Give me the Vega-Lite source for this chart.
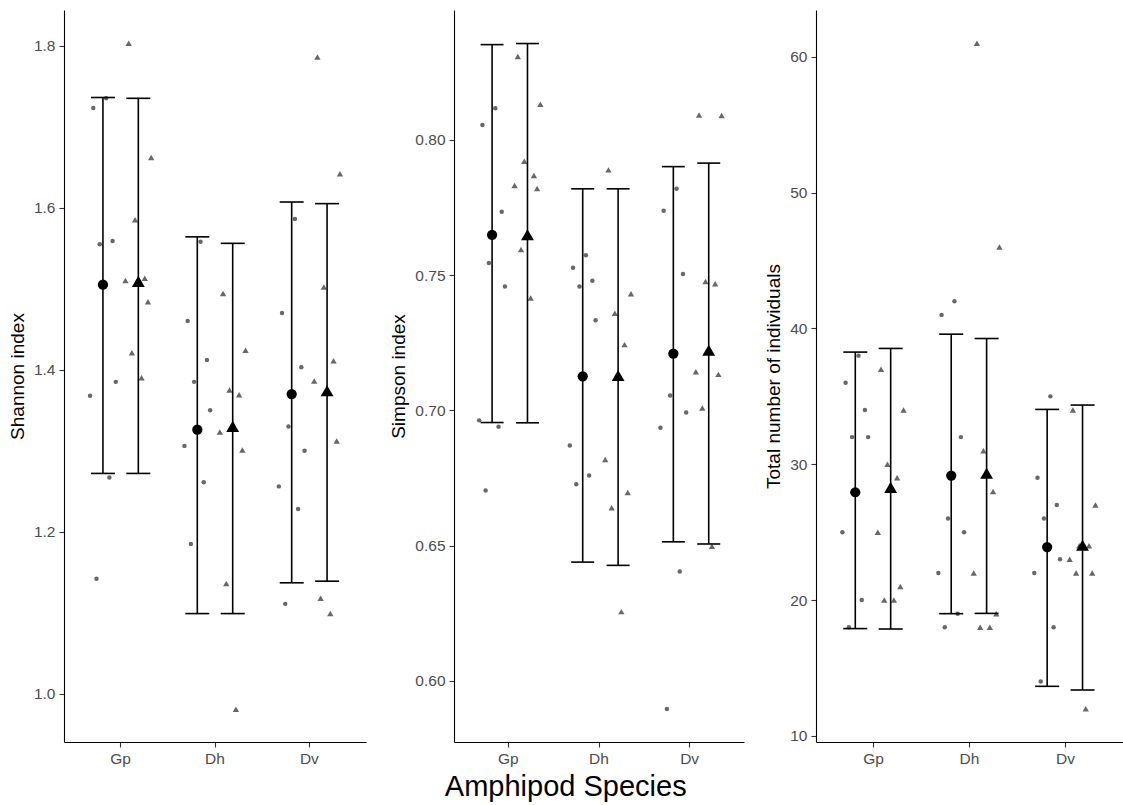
{
  "$schema": "https://vega.github.io/schema/vega-lite/v6.json",
  "padding": {"left": 8, "top": 10, "right": 0, "bottom": 4},
  "spacing": 20,
  "title": {"text": "Amphipod Species", "orient": "bottom", "anchor": "middle", "fontSize": 29, "font": "Liberation Sans", "fontWeight": "normal", "color": "#000000", "offset": 6},
  "config": {
    "font": "Liberation Sans",
    "view": {"stroke": null},
    "axis": {"grid": false, "domainColor": "#000000", "domainWidth": 1.1, "tickColor": "#333333", "tickWidth": 1.1, "tickSize": 5, "labelColor": "#4d4d4d", "labelFontSize": 15.5, "labelFont": "Liberation Sans", "titleFont": "Liberation Sans", "titleFontSize": 19, "titleFontWeight": "normal", "titleColor": "#000000", "labelPadding": 4},
    "axisY": {"titlePadding": 6},
    "axisX": {"labelAngle": 0}
  },
  "datasets": {
    "pts": [
      {"idx":"Shannon","sp":"Gp","grp":"A","id":"A1","v":1.735},
      {"idx":"Shannon","sp":"Gp","grp":"A","id":"A2","v":1.723},
      {"idx":"Shannon","sp":"Gp","grp":"A","id":"A3","v":1.559},
      {"idx":"Shannon","sp":"Gp","grp":"A","id":"A4","v":1.555},
      {"idx":"Shannon","sp":"Gp","grp":"A","id":"A5","v":1.385},
      {"idx":"Shannon","sp":"Gp","grp":"A","id":"A6","v":1.368},
      {"idx":"Shannon","sp":"Gp","grp":"A","id":"A7","v":1.267},
      {"idx":"Shannon","sp":"Gp","grp":"A","id":"A8","v":1.142},
      {"idx":"Shannon","sp":"Gp","grp":"B","id":"B1","v":1.803},
      {"idx":"Shannon","sp":"Gp","grp":"B","id":"B2","v":1.662},
      {"idx":"Shannon","sp":"Gp","grp":"B","id":"B3","v":1.585},
      {"idx":"Shannon","sp":"Gp","grp":"B","id":"B4","v":1.513},
      {"idx":"Shannon","sp":"Gp","grp":"B","id":"B5","v":1.510},
      {"idx":"Shannon","sp":"Gp","grp":"B","id":"B6","v":1.484},
      {"idx":"Shannon","sp":"Gp","grp":"B","id":"B7","v":1.421},
      {"idx":"Shannon","sp":"Gp","grp":"B","id":"B8","v":1.390},
      {"idx":"Shannon","sp":"Dh","grp":"A","id":"A1","v":1.558},
      {"idx":"Shannon","sp":"Dh","grp":"A","id":"A2","v":1.460},
      {"idx":"Shannon","sp":"Dh","grp":"A","id":"A3","v":1.412},
      {"idx":"Shannon","sp":"Dh","grp":"A","id":"A4","v":1.385},
      {"idx":"Shannon","sp":"Dh","grp":"A","id":"A5","v":1.350},
      {"idx":"Shannon","sp":"Dh","grp":"A","id":"A6","v":1.306},
      {"idx":"Shannon","sp":"Dh","grp":"A","id":"A7","v":1.261},
      {"idx":"Shannon","sp":"Dh","grp":"A","id":"A8","v":1.185},
      {"idx":"Shannon","sp":"Dh","grp":"B","id":"B1","v":1.494},
      {"idx":"Shannon","sp":"Dh","grp":"B","id":"B2","v":1.424},
      {"idx":"Shannon","sp":"Dh","grp":"B","id":"B3","v":1.375},
      {"idx":"Shannon","sp":"Dh","grp":"B","id":"B4","v":1.369},
      {"idx":"Shannon","sp":"Dh","grp":"B","id":"B5","v":1.323},
      {"idx":"Shannon","sp":"Dh","grp":"B","id":"B6","v":1.301},
      {"idx":"Shannon","sp":"Dh","grp":"B","id":"B7","v":1.136},
      {"idx":"Shannon","sp":"Dh","grp":"B","id":"B8","v":0.981},
      {"idx":"Shannon","sp":"Dv","grp":"A","id":"A1","v":1.586},
      {"idx":"Shannon","sp":"Dv","grp":"A","id":"A2","v":1.470},
      {"idx":"Shannon","sp":"Dv","grp":"A","id":"A3","v":1.403},
      {"idx":"Shannon","sp":"Dv","grp":"A","id":"A4","v":1.330},
      {"idx":"Shannon","sp":"Dv","grp":"A","id":"A5","v":1.300},
      {"idx":"Shannon","sp":"Dv","grp":"A","id":"A6","v":1.256},
      {"idx":"Shannon","sp":"Dv","grp":"A","id":"A7","v":1.228},
      {"idx":"Shannon","sp":"Dv","grp":"A","id":"A8","v":1.111},
      {"idx":"Shannon","sp":"Dv","grp":"B","id":"B1","v":1.786},
      {"idx":"Shannon","sp":"Dv","grp":"B","id":"B2","v":1.642},
      {"idx":"Shannon","sp":"Dv","grp":"B","id":"B3","v":1.502},
      {"idx":"Shannon","sp":"Dv","grp":"B","id":"B4","v":1.411},
      {"idx":"Shannon","sp":"Dv","grp":"B","id":"B5","v":1.386},
      {"idx":"Shannon","sp":"Dv","grp":"B","id":"B6","v":1.312},
      {"idx":"Shannon","sp":"Dv","grp":"B","id":"B7","v":1.118},
      {"idx":"Shannon","sp":"Dv","grp":"B","id":"B8","v":1.099},
      {"idx":"Simpson","sp":"Gp","grp":"A","id":"A1","v":0.8117},
      {"idx":"Simpson","sp":"Gp","grp":"A","id":"A2","v":0.8055},
      {"idx":"Simpson","sp":"Gp","grp":"A","id":"A3","v":0.7734},
      {"idx":"Simpson","sp":"Gp","grp":"A","id":"A4","v":0.7545},
      {"idx":"Simpson","sp":"Gp","grp":"A","id":"A5","v":0.7458},
      {"idx":"Simpson","sp":"Gp","grp":"A","id":"A6","v":0.6963},
      {"idx":"Simpson","sp":"Gp","grp":"A","id":"A7","v":0.6939},
      {"idx":"Simpson","sp":"Gp","grp":"A","id":"A8","v":0.6704},
      {"idx":"Simpson","sp":"Gp","grp":"B","id":"B1","v":0.8308},
      {"idx":"Simpson","sp":"Gp","grp":"B","id":"B2","v":0.8132},
      {"idx":"Simpson","sp":"Gp","grp":"B","id":"B3","v":0.7921},
      {"idx":"Simpson","sp":"Gp","grp":"B","id":"B4","v":0.7868},
      {"idx":"Simpson","sp":"Gp","grp":"B","id":"B5","v":0.7831},
      {"idx":"Simpson","sp":"Gp","grp":"B","id":"B6","v":0.7820},
      {"idx":"Simpson","sp":"Gp","grp":"B","id":"B7","v":0.7595},
      {"idx":"Simpson","sp":"Gp","grp":"B","id":"B8","v":0.7415},
      {"idx":"Simpson","sp":"Dh","grp":"A","id":"A1","v":0.7573},
      {"idx":"Simpson","sp":"Dh","grp":"A","id":"A2","v":0.7527},
      {"idx":"Simpson","sp":"Dh","grp":"A","id":"A3","v":0.7479},
      {"idx":"Simpson","sp":"Dh","grp":"A","id":"A4","v":0.7458},
      {"idx":"Simpson","sp":"Dh","grp":"A","id":"A5","v":0.7333},
      {"idx":"Simpson","sp":"Dh","grp":"A","id":"A6","v":0.6870},
      {"idx":"Simpson","sp":"Dh","grp":"A","id":"A7","v":0.6759},
      {"idx":"Simpson","sp":"Dh","grp":"A","id":"A8","v":0.6727},
      {"idx":"Simpson","sp":"Dh","grp":"B","id":"B1","v":0.7889},
      {"idx":"Simpson","sp":"Dh","grp":"B","id":"B2","v":0.7431},
      {"idx":"Simpson","sp":"Dh","grp":"B","id":"B3","v":0.7359},
      {"idx":"Simpson","sp":"Dh","grp":"B","id":"B4","v":0.7243},
      {"idx":"Simpson","sp":"Dh","grp":"B","id":"B5","v":0.6818},
      {"idx":"Simpson","sp":"Dh","grp":"B","id":"B6","v":0.6696},
      {"idx":"Simpson","sp":"Dh","grp":"B","id":"B7","v":0.6640},
      {"idx":"Simpson","sp":"Dh","grp":"B","id":"B8","v":0.6256},
      {"idx":"Simpson","sp":"Dv","grp":"A","id":"A1","v":0.7819},
      {"idx":"Simpson","sp":"Dv","grp":"A","id":"A2","v":0.7738},
      {"idx":"Simpson","sp":"Dv","grp":"A","id":"A3","v":0.7504},
      {"idx":"Simpson","sp":"Dv","grp":"A","id":"A4","v":0.7055},
      {"idx":"Simpson","sp":"Dv","grp":"A","id":"A5","v":0.6992},
      {"idx":"Simpson","sp":"Dv","grp":"A","id":"A6","v":0.6936},
      {"idx":"Simpson","sp":"Dv","grp":"A","id":"A7","v":0.6404},
      {"idx":"Simpson","sp":"Dv","grp":"A","id":"A8","v":0.5896},
      {"idx":"Simpson","sp":"Dv","grp":"B","id":"B1","v":0.8092},
      {"idx":"Simpson","sp":"Dv","grp":"B","id":"B2","v":0.8090},
      {"idx":"Simpson","sp":"Dv","grp":"B","id":"B3","v":0.7476},
      {"idx":"Simpson","sp":"Dv","grp":"B","id":"B4","v":0.7468},
      {"idx":"Simpson","sp":"Dv","grp":"B","id":"B5","v":0.7143},
      {"idx":"Simpson","sp":"Dv","grp":"B","id":"B6","v":0.7133},
      {"idx":"Simpson","sp":"Dv","grp":"B","id":"B7","v":0.7009},
      {"idx":"Simpson","sp":"Dv","grp":"B","id":"B8","v":0.6498},
      {"idx":"Total","sp":"Gp","grp":"A","id":"A1","v":38},
      {"idx":"Total","sp":"Gp","grp":"A","id":"A2","v":36},
      {"idx":"Total","sp":"Gp","grp":"A","id":"A3","v":34},
      {"idx":"Total","sp":"Gp","grp":"A","id":"A4","v":32},
      {"idx":"Total","sp":"Gp","grp":"A","id":"A5","v":32},
      {"idx":"Total","sp":"Gp","grp":"A","id":"A6","v":25},
      {"idx":"Total","sp":"Gp","grp":"A","id":"A7","v":20},
      {"idx":"Total","sp":"Gp","grp":"A","id":"A8","v":18},
      {"idx":"Total","sp":"Gp","grp":"B","id":"B1","v":37},
      {"idx":"Total","sp":"Gp","grp":"B","id":"B2","v":34},
      {"idx":"Total","sp":"Gp","grp":"B","id":"B3","v":30},
      {"idx":"Total","sp":"Gp","grp":"B","id":"B4","v":29},
      {"idx":"Total","sp":"Gp","grp":"B","id":"B5","v":25},
      {"idx":"Total","sp":"Gp","grp":"B","id":"B6","v":21},
      {"idx":"Total","sp":"Gp","grp":"B","id":"B7","v":20},
      {"idx":"Total","sp":"Gp","grp":"B","id":"B8","v":20},
      {"idx":"Total","sp":"Dh","grp":"A","id":"A1","v":42},
      {"idx":"Total","sp":"Dh","grp":"A","id":"A2","v":41},
      {"idx":"Total","sp":"Dh","grp":"A","id":"A3","v":32},
      {"idx":"Total","sp":"Dh","grp":"A","id":"A4","v":26},
      {"idx":"Total","sp":"Dh","grp":"A","id":"A5","v":25},
      {"idx":"Total","sp":"Dh","grp":"A","id":"A6","v":22},
      {"idx":"Total","sp":"Dh","grp":"A","id":"A7","v":19},
      {"idx":"Total","sp":"Dh","grp":"A","id":"A8","v":18},
      {"idx":"Total","sp":"Dh","grp":"B","id":"B1","v":61},
      {"idx":"Total","sp":"Dh","grp":"B","id":"B2","v":46},
      {"idx":"Total","sp":"Dh","grp":"B","id":"B3","v":31},
      {"idx":"Total","sp":"Dh","grp":"B","id":"B4","v":28},
      {"idx":"Total","sp":"Dh","grp":"B","id":"B5","v":22},
      {"idx":"Total","sp":"Dh","grp":"B","id":"B6","v":19},
      {"idx":"Total","sp":"Dh","grp":"B","id":"B7","v":18},
      {"idx":"Total","sp":"Dh","grp":"B","id":"B8","v":18},
      {"idx":"Total","sp":"Dv","grp":"A","id":"A1","v":35},
      {"idx":"Total","sp":"Dv","grp":"A","id":"A2","v":29},
      {"idx":"Total","sp":"Dv","grp":"A","id":"A3","v":27},
      {"idx":"Total","sp":"Dv","grp":"A","id":"A4","v":26},
      {"idx":"Total","sp":"Dv","grp":"A","id":"A5","v":23},
      {"idx":"Total","sp":"Dv","grp":"A","id":"A6","v":22},
      {"idx":"Total","sp":"Dv","grp":"A","id":"A7","v":18},
      {"idx":"Total","sp":"Dv","grp":"A","id":"A8","v":14},
      {"idx":"Total","sp":"Dv","grp":"B","id":"B1","v":34},
      {"idx":"Total","sp":"Dv","grp":"B","id":"B2","v":27},
      {"idx":"Total","sp":"Dv","grp":"B","id":"B3","v":24},
      {"idx":"Total","sp":"Dv","grp":"B","id":"B4","v":24},
      {"idx":"Total","sp":"Dv","grp":"B","id":"B5","v":23},
      {"idx":"Total","sp":"Dv","grp":"B","id":"B6","v":22},
      {"idx":"Total","sp":"Dv","grp":"B","id":"B7","v":22},
      {"idx":"Total","sp":"Dv","grp":"B","id":"B8","v":12}
    ],
    "means": [
      {"idx":"Shannon","sp":"Gp","grp":"A","id":"AM","mean":1.505,"lo":1.272,"hi":1.736},
      {"idx":"Shannon","sp":"Gp","grp":"B","id":"BM","mean":1.509,"lo":1.272,"hi":1.735},
      {"idx":"Shannon","sp":"Dh","grp":"A","id":"AM","mean":1.326,"lo":1.099,"hi":1.564},
      {"idx":"Shannon","sp":"Dh","grp":"B","id":"BM","mean":1.330,"lo":1.099,"hi":1.556},
      {"idx":"Shannon","sp":"Dv","grp":"A","id":"AM","mean":1.370,"lo":1.137,"hi":1.607},
      {"idx":"Shannon","sp":"Dv","grp":"B","id":"BM","mean":1.374,"lo":1.139,"hi":1.605},
      {"idx":"Simpson","sp":"Gp","grp":"A","id":"AM","mean":0.7649,"lo":0.6955,"hi":0.8352},
      {"idx":"Simpson","sp":"Gp","grp":"B","id":"BM","mean":0.7649,"lo":0.6954,"hi":0.8356},
      {"idx":"Simpson","sp":"Dh","grp":"A","id":"AM","mean":0.7126,"lo":0.6439,"hi":0.7819},
      {"idx":"Simpson","sp":"Dh","grp":"B","id":"BM","mean":0.7129,"lo":0.6427,"hi":0.7819},
      {"idx":"Simpson","sp":"Dv","grp":"A","id":"AM","mean":0.7210,"lo":0.6514,"hi":0.7901},
      {"idx":"Simpson","sp":"Dv","grp":"B","id":"BM","mean":0.7222,"lo":0.6506,"hi":0.7914},
      {"idx":"Total","sp":"Gp","grp":"A","id":"AM","mean":27.94,"lo":17.90,"hi":38.26},
      {"idx":"Total","sp":"Gp","grp":"B","id":"BM","mean":28.30,"lo":17.87,"hi":38.53},
      {"idx":"Total","sp":"Dh","grp":"A","id":"AM","mean":29.17,"lo":19.00,"hi":39.58},
      {"idx":"Total","sp":"Dh","grp":"B","id":"BM","mean":29.34,"lo":19.02,"hi":39.26},
      {"idx":"Total","sp":"Dv","grp":"A","id":"AM","mean":23.90,"lo":13.65,"hi":34.04},
      {"idx":"Total","sp":"Dv","grp":"B","id":"BM","mean":24.04,"lo":13.38,"hi":34.36}
    ]
  },
  "hconcat": [
    {
      "spacing": 23,
      "hconcat": [
        {
          "width": 302, "height": 732,
          "encoding": {
            "x": {"field": "sp", "type": "nominal", "title": null, "scale": {"domain": ["Gp","Dh","Dv"], "paddingInner": 0.25, "paddingOuter": 0.225}},
            "xOffset": {"field": "id", "type": "nominal", "scale": {"domain": ["A6","A2","A8","A4","AM","A1","A7","A3","A5","G1","G2","B5","B1","B7","B3","BM","B8","B4","B6","B2"], "paddingInner": 0, "paddingOuter": 1}}
          },
          "layer": [
            {
              "data": {"name": "pts"},
              "transform": [{"filter": "datum.idx === 'Shannon' && datum.grp === 'A'"}],
              "mark": {"type": "point", "shape": "circle", "filled": true, "color": "#686868", "opacity": 1, "size": 20},
              "encoding": {"y": {"field": "v", "type": "quantitative", "title": "Shannon index", "scale": {"domain": [0.9405, 1.844], "nice": false, "zero": false}, "axis": {"values": [1.0,1.2,1.4,1.6,1.8], "format": ".1f"}}}
            },
            {
              "data": {"name": "pts"},
              "transform": [{"filter": "datum.idx === 'Shannon' && datum.grp === 'B'"}],
              "mark": {"type": "point", "shape": "triangle-up", "filled": true, "color": "#686868", "opacity": 1, "size": 40},
              "encoding": {"y": {"field": "v", "type": "quantitative"}}
            },
            {
              "data": {"name": "means"},
              "transform": [{"filter": "datum.idx === 'Shannon'"}],
              "mark": {"type": "rule", "color": "#000000", "strokeWidth": 1.6},
              "encoding": {"y": {"field": "lo", "type": "quantitative"}, "y2": {"field": "hi"}}
            },
            {
              "data": {"name": "means"},
              "transform": [{"filter": "datum.idx === 'Shannon'"}],
              "mark": {"type": "tick", "color": "#000000", "thickness": 1.6, "size": 24, "opacity": 1},
              "encoding": {"y": {"field": "lo", "type": "quantitative"}}
            },
            {
              "data": {"name": "means"},
              "transform": [{"filter": "datum.idx === 'Shannon'"}],
              "mark": {"type": "tick", "color": "#000000", "thickness": 1.6, "size": 24, "opacity": 1},
              "encoding": {"y": {"field": "hi", "type": "quantitative"}}
            },
            {
              "data": {"name": "means"},
              "transform": [{"filter": "datum.idx === 'Shannon' && datum.grp === 'A'"}],
              "mark": {"type": "point", "shape": "circle", "filled": true, "color": "#000000", "opacity": 1, "size": 105},
              "encoding": {"y": {"field": "mean", "type": "quantitative"}}
            },
            {
              "data": {"name": "means"},
              "transform": [{"filter": "datum.idx === 'Shannon' && datum.grp === 'B'"}],
              "mark": {"type": "point", "shape": "triangle-up", "filled": true, "color": "#000000", "opacity": 1, "size": 165},
              "encoding": {"y": {"field": "mean", "type": "quantitative"}}
            }
          ]
        },
        {
          "width": 290, "height": 732,
          "encoding": {
            "x": {"field": "sp", "type": "nominal", "title": null, "scale": {"domain": ["Gp","Dh","Dv"], "paddingInner": 0.25, "paddingOuter": 0.225}},
            "xOffset": {"field": "id", "type": "nominal", "scale": {"domain": ["A6","A2","A8","A4","AM","A1","A7","A3","A5","G1","G2","B5","B1","B7","B3","BM","B8","B4","B6","B2"], "paddingInner": 0, "paddingOuter": 1}}
          },
          "layer": [
            {
              "data": {"name": "pts"},
              "transform": [{"filter": "datum.idx === 'Simpson' && datum.grp === 'A'"}],
              "mark": {"type": "point", "shape": "circle", "filled": true, "color": "#686868", "opacity": 1, "size": 20},
              "encoding": {"y": {"field": "v", "type": "quantitative", "title": "Simpson index", "scale": {"domain": [0.5774, 0.848], "nice": false, "zero": false}, "axis": {"values": [0.60,0.65,0.70,0.75,0.80], "format": ".2f"}}}
            },
            {
              "data": {"name": "pts"},
              "transform": [{"filter": "datum.idx === 'Simpson' && datum.grp === 'B'"}],
              "mark": {"type": "point", "shape": "triangle-up", "filled": true, "color": "#686868", "opacity": 1, "size": 40},
              "encoding": {"y": {"field": "v", "type": "quantitative"}}
            },
            {
              "data": {"name": "means"},
              "transform": [{"filter": "datum.idx === 'Simpson'"}],
              "mark": {"type": "rule", "color": "#000000", "strokeWidth": 1.6},
              "encoding": {"y": {"field": "lo", "type": "quantitative"}, "y2": {"field": "hi"}}
            },
            {
              "data": {"name": "means"},
              "transform": [{"filter": "datum.idx === 'Simpson'"}],
              "mark": {"type": "tick", "color": "#000000", "thickness": 1.6, "size": 23, "opacity": 1},
              "encoding": {"y": {"field": "lo", "type": "quantitative"}}
            },
            {
              "data": {"name": "means"},
              "transform": [{"filter": "datum.idx === 'Simpson'"}],
              "mark": {"type": "tick", "color": "#000000", "thickness": 1.6, "size": 23, "opacity": 1},
              "encoding": {"y": {"field": "hi", "type": "quantitative"}}
            },
            {
              "data": {"name": "means"},
              "transform": [{"filter": "datum.idx === 'Simpson' && datum.grp === 'A'"}],
              "mark": {"type": "point", "shape": "circle", "filled": true, "color": "#000000", "opacity": 1, "size": 105},
              "encoding": {"y": {"field": "mean", "type": "quantitative"}}
            },
            {
              "data": {"name": "means"},
              "transform": [{"filter": "datum.idx === 'Simpson' && datum.grp === 'B'"}],
              "mark": {"type": "point", "shape": "triangle-up", "filled": true, "color": "#000000", "opacity": 1, "size": 165},
              "encoding": {"y": {"field": "mean", "type": "quantitative"}}
            }
          ]
        }
      ]
    },
    {
      "width": 307, "height": 732,
      "encoding": {
        "x": {"field": "sp", "type": "nominal", "title": null, "scale": {"domain": ["Gp","Dh","Dv"], "paddingInner": 0.25, "paddingOuter": 0.225}},
        "xOffset": {"field": "id", "type": "nominal", "scale": {"domain": ["A6","A2","A8","A4","AM","A1","A7","A3","A5","G1","G2","B5","B1","B7","B3","BM","B8","B4","B6","B2"], "paddingInner": 0, "paddingOuter": 1}}
      },
      "layer": [
        {
          "data": {"name": "pts"},
          "transform": [{"filter": "datum.idx === 'Total' && datum.grp === 'A'"}],
          "mark": {"type": "point", "shape": "circle", "filled": true, "color": "#686868", "opacity": 1, "size": 20},
          "encoding": {"y": {"field": "v", "type": "quantitative", "title": "Total number of individuals", "scale": {"domain": [9.55, 63.45], "nice": false, "zero": false}, "axis": {"values": [10,20,30,40,50,60]}}}
        },
        {
          "data": {"name": "pts"},
          "transform": [{"filter": "datum.idx === 'Total' && datum.grp === 'B'"}],
          "mark": {"type": "point", "shape": "triangle-up", "filled": true, "color": "#686868", "opacity": 1, "size": 40},
          "encoding": {"y": {"field": "v", "type": "quantitative"}}
        },
        {
          "data": {"name": "means"},
          "transform": [{"filter": "datum.idx === 'Total'"}],
          "mark": {"type": "rule", "color": "#000000", "strokeWidth": 1.6},
          "encoding": {"y": {"field": "lo", "type": "quantitative"}, "y2": {"field": "hi"}}
        },
        {
          "data": {"name": "means"},
          "transform": [{"filter": "datum.idx === 'Total'"}],
          "mark": {"type": "tick", "color": "#000000", "thickness": 1.6, "size": 24, "opacity": 1},
          "encoding": {"y": {"field": "lo", "type": "quantitative"}}
        },
        {
          "data": {"name": "means"},
          "transform": [{"filter": "datum.idx === 'Total'"}],
          "mark": {"type": "tick", "color": "#000000", "thickness": 1.6, "size": 24, "opacity": 1},
          "encoding": {"y": {"field": "hi", "type": "quantitative"}}
        },
        {
          "data": {"name": "means"},
          "transform": [{"filter": "datum.idx === 'Total' && datum.grp === 'A'"}],
          "mark": {"type": "point", "shape": "circle", "filled": true, "color": "#000000", "opacity": 1, "size": 105},
          "encoding": {"y": {"field": "mean", "type": "quantitative"}}
        },
        {
          "data": {"name": "means"},
          "transform": [{"filter": "datum.idx === 'Total' && datum.grp === 'B'"}],
          "mark": {"type": "point", "shape": "triangle-up", "filled": true, "color": "#000000", "opacity": 1, "size": 165},
          "encoding": {"y": {"field": "mean", "type": "quantitative"}}
        }
      ]
    }
  ]
}
